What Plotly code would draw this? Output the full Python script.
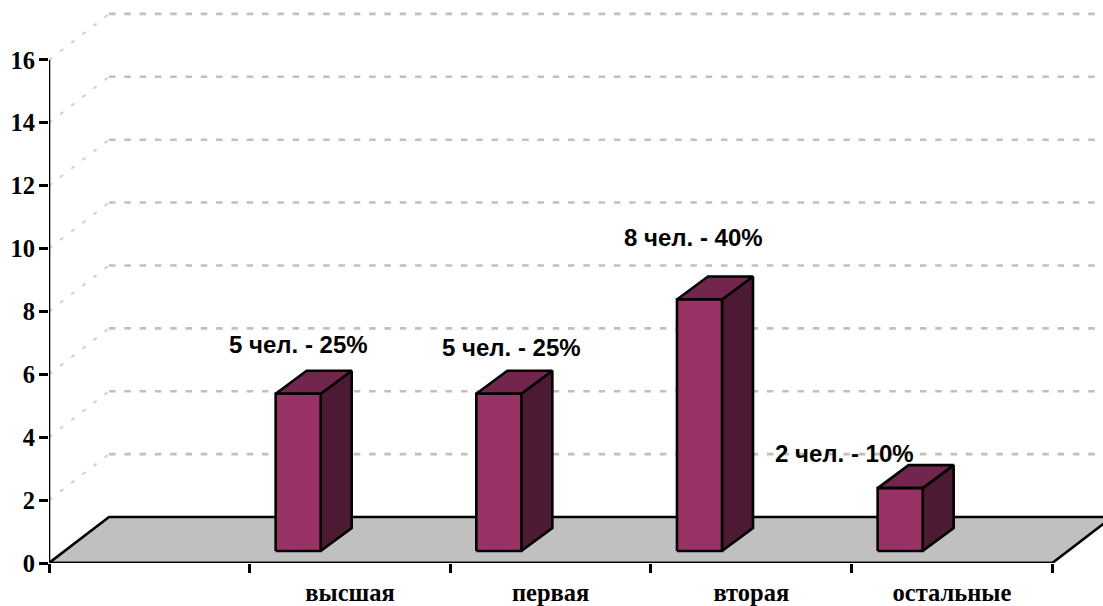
import plotly.graph_objects as go

categories = ["высшая", "первая", "вторая", "остальные"]
values = [5, 5, 8, 2]
bar_labels = ["5 чел. - 25%", "5 чел. - 25%", "8 чел. - 40%", "2 чел. - 10%"]
y_ticks = [0, 2, 4, 6, 8, 10, 12, 14, 16]

# chart geometry, in axis units
W, H = 1103, 606
X0_PX, Y0_PX = 49.3, 562.8
PX_X, PX_Y = 200.6, 31.43
WALL_DX, WALL_DY = 60 / PX_X, 46 / PX_Y
BAR_DX, BAR_DY = 31 / PX_X, 23 / PX_Y
BAR_START, BAR_W, BAR_BASE = 26 / PX_X, 45 / PX_X, 12 / PX_Y
N_SLOTS = len(categories) + 1
LABEL_SHIFTS = [(0, 49), (12.5, 46), (-5.5, 62), (-56, 35)]

xmax = (W - X0_PX) / PX_X
ymax = Y0_PX / PX_Y

GREY, BLACK = "#C0C0C0", "#000000"
FRONT, SIDE, TOP = "#993366", "#4D1A33", "#73264D"


def poly(xs, ys, fill, lw=2.6):
    return go.Scatter(x=xs + xs[:1], y=ys + ys[:1], mode="lines", fill="toself",
                      fillcolor=fill, line=dict(color=BLACK, width=lw, simplify=False),
                      cliponaxis=False, hoverinfo="skip", showlegend=False)


def seg(xs, ys, color, lw, dash="solid"):
    return go.Scatter(x=xs, y=ys, mode="lines", line=dict(color=color, width=lw, dash=dash),
                      cliponaxis=False, hoverinfo="skip", showlegend=False)


fig = go.Figure()

# back wall grid lines
for v in y_ticks[1:]:
    fig.add_trace(seg([0, WALL_DX], [v, v + WALL_DY], "#D0D0D0", 2, "4px,10px"))
    fig.add_trace(seg([WALL_DX, xmax], [v + WALL_DY, v + WALL_DY], GREY, 2.6, "6.5px,8.8px"))

# floor
fig.add_trace(go.Scatter(
    x=[0, N_SLOTS, N_SLOTS + WALL_DX, WALL_DX, 0],
    y=[0, 0, WALL_DY, WALL_DY, 0],
    mode="lines", fill="toself", fillcolor=GREY,
    line=dict(color=BLACK, width=2.6), cliponaxis=True,
    hoverinfo="skip", showlegend=False))

# axes
fig.add_trace(seg([0, 0], [0, y_ticks[-1]], BLACK, 2.6))
fig.add_trace(seg([0, N_SLOTS], [0, 0], BLACK, 2.6))

# 3D bars
for i, v in enumerate(values):
    x1 = i + 1 + BAR_START
    x2 = x1 + BAR_W
    y1 = BAR_BASE
    y2 = BAR_BASE + v
    fig.add_trace(poly([x2, x2 + BAR_DX, x2 + BAR_DX, x2],
                       [y1, y1 + BAR_DY, y2 + BAR_DY, y2], SIDE))
    fig.add_trace(poly([x1, x2, x2 + BAR_DX, x1 + BAR_DX],
                       [y2, y2, y2 + BAR_DY, y2 + BAR_DY], TOP))
    fig.add_trace(poly([x1, x2, x2, x1], [y1, y1, y2, y2], FRONT))
    sx, sy = LABEL_SHIFTS[i]
    fig.add_annotation(x=(x1 + x2) / 2, y=y2, text=f"<b>{bar_labels[i]}</b>", showarrow=False,
                       xshift=sx, yshift=sy, xanchor="center", yanchor="middle",
                       font=dict(family="Liberation Sans", size=24, color=BLACK))

fig.update_layout(
    width=W, height=H, showlegend=False, hovermode=False,
    paper_bgcolor="white", plot_bgcolor="white",
    margin=dict(l=X0_PX, r=0, t=0, b=H - Y0_PX, autoexpand=False),
    xaxis=dict(
        range=[0, xmax], showgrid=False, zeroline=False, showline=False,
        tickmode="array", tickvals=[i + 1.5 for i in range(len(categories))],
        ticktext=[f"<b>{c}</b>" for c in categories],
        ticks="outside", ticklen=8, tickwidth=1, tickcolor="rgba(0,0,0,0)",
        tickangle=0,
        tickfont=dict(family="Liberation Serif", size=24.5, color=BLACK),
        minor=dict(tickmode="array", tickvals=list(range(N_SLOTS + 1)), ticks="outside",
                   ticklen=9, tickwidth=2.6, tickcolor=BLACK, showgrid=False),
    ),
    yaxis=dict(
        range=[0, ymax], showgrid=False, zeroline=False, showline=False,
        tickmode="array", tickvals=y_ticks,
        ticktext=[f"<b>{v}</b>" for v in y_ticks],
        ticks="outside", ticklen=9, tickwidth=2.6, tickcolor=BLACK, ticklabelstandoff=-1,
        tickfont=dict(family="Liberation Serif", size=24.5, color=BLACK),
    ),
)

fig.write_html("out.html", config={"displayModeBar": False},
               post_script="document.body.style.margin='0';")
